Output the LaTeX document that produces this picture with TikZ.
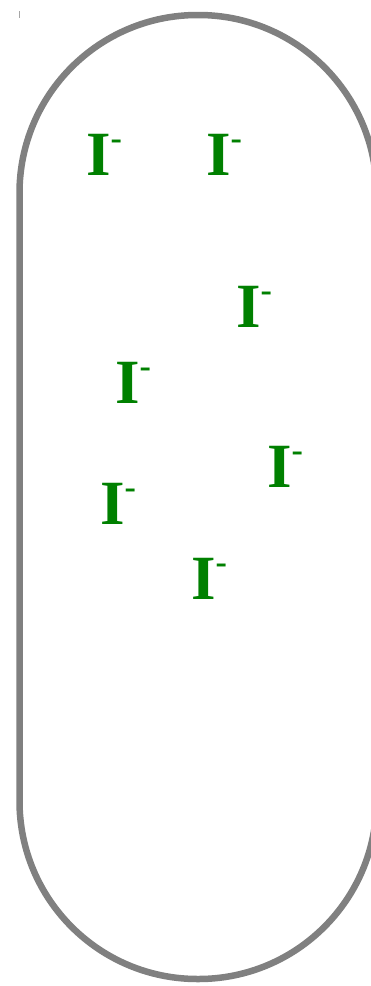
\documentclass[tikz,border=0pt]{standalone}
\usepackage{fontspec}
\setmainfont{Liberation Serif}
\definecolor{iongreen}{HTML}{008000}
\definecolor{wallgray}{HTML}{808080}
\tikzset{
  ion/.style={anchor=base west, inner sep=0pt, text=iongreen, font=\fontsize{63}{63}\selectfont\bfseries},
  wall/.style={draw=wallgray, line width=6.5pt, rounded corners=178pt},
}
\begin{document}
\begin{tikzpicture}[x=1pt,y=-1pt]
        \useasboundingbox (0,0) rectangle (371,986);
        \clip (0,0) rectangle (371,986);
        % cell wall
        \draw[wall] (19.5,15) rectangle (376.5,979);
        \draw[wallgray!70, line width=0.8pt] (19.5,11) -- (19.5,18);
        % iodide ions
        \foreach \x/\y [count=\i] in {86/175, 206/175, 236/327, 115/403, 267/487, 100/524, 191/599} {
          \node[ion] (ion\i) at (\x,\y) {I\raisebox{0.4em}{\fontsize{34}{34}\selectfont -}};
        }
      \end{tikzpicture}
\end{document}
